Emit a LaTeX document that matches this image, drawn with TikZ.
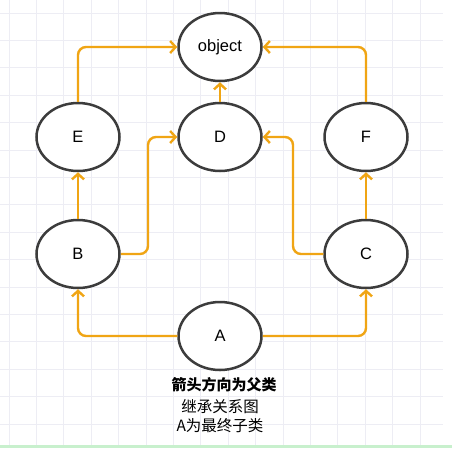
\documentclass[tikz,border=0pt]{standalone}
\usepackage{fontspec}
\setmainfont{Liberation Sans}
\newfontfamily\cjk{Noto Sans CJK SC}
\usetikzlibrary{shapes.geometric,arrows.meta}
\definecolor{arrorange}{RGB}{240,165,20}
\definecolor{ringgray}{RGB}{60,60,60}
\definecolor{gridc}{RGB}{237,237,244}
\definecolor{greenstrip}{RGB}{200,240,205}
\tikzset{
  cls/.style={ellipse, draw=ringgray, line width=2.5pt, fill=white,
    minimum width=83pt, minimum height=68pt, inner sep=0pt, font=\fontsize{16.5}{18}\selectfont},
  arr/.style={draw=arrorange, line width=2.4pt, rounded corners=8pt,
    -{Straight Barb[length=5.5pt,width=12pt]}},
  note/.style={font=\cjk\fontsize{15.5}{18}\selectfont, inner sep=0pt}
}
\begin{document}
\begin{tikzpicture}[x=1pt,y=-1pt]
\useasboundingbox (0,0) rectangle (452,448);
\fill[white] (0,0) rectangle (452,448);
% grid
\foreach \k in {0,...,15} {
  \draw[gridc, line width=0.8pt] ({9+27.4*\k},0) -- ({9+27.4*\k},445);
}
\foreach \k in {0,...,15} {
  \draw[gridc, line width=0.8pt] (0,{13+27.4*\k}) -- (443,{13+27.4*\k});
}
\fill[greenstrip] (0,445) rectangle (452,448);

% nodes
\node[cls] (obj) at (220,47) {object};
\node[cls] (E) at (78,137) {E};
\node[cls] (D) at (220,137) {D};
\node[cls] (F) at (366,137) {F};
\node[cls] (B) at (78,254) {B};
\node[cls] (C) at (366,254) {C};
\node[cls] (A) at (220,336) {A};

\coordinate (bd) at (148,137);
\coordinate (cd) at (293,137);

% connectors
\draw[arr] (E) |- (obj);
\draw[arr] (F) |- (obj);
\draw[arr] (D) -- (obj);
\draw[arr] (B) -- (E);
\draw[arr] (C) -- (F);
\draw[arr] (B.east) -| (bd) -- (D.west);
\draw[arr] (C.west) -| (cd) -- (D.east);
\draw[arr] (A) -| (B);
\draw[arr] (A) -| (C);

% texts
\node[note, font=\cjk\bfseries\fontsize{15}{18}\selectfont] (t1) at (224,385) {箭头方向为父类};
\node[note] (t2) at (220,407) {继承关系图};
\node[note] (t3) at (220,426) {A为最终子类};
\end{tikzpicture}
\end{document}
